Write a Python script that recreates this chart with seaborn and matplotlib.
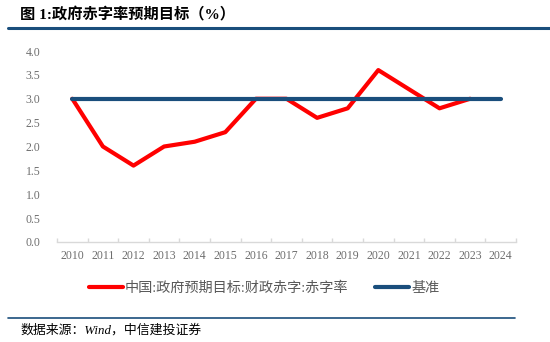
import matplotlib
matplotlib.use("Agg")
import matplotlib.pyplot as plt
import seaborn as sns
import pandas as pd
import numpy as np
from matplotlib.lines import Line2D

years = [2010, 2011, 2012, 2013, 2014, 2015, 2016, 2017, 2018, 2019, 2020, 2021, 2022, 2023, 2024]
deficit_years = [2010, 2011, 2012, 2013, 2014, 2015, 2016, 2017, 2018, 2019, 2020, 2021, 2022, 2023]
deficit = [3.0, 2.0, 1.6, 2.0, 2.1, 2.3, 3.0, 3.0, 2.6, 2.8, 3.6, 3.2, 2.8, 3.0]
baseline = [3.0] * 15
y_ticks = [0.0, 0.5, 1.0, 1.5, 2.0, 2.5, 3.0, 3.5, 4.0]

name_red = "中国:政府预期目标:财政赤字:赤字率"
name_blue = "基准"
RED = "#FF0000"
BLUE = "#1A4E7C"

sns.set_theme(style="white")
plt.rcParams['font.family'] = ['Liberation Serif', 'Noto Sans CJK SC', 'DejaVu Sans']

fig = plt.figure(figsize=(5.5, 3.42), dpi=100)
ax = fig.add_axes([57/550, 100/342, 459/550, 191/342])

df_red = pd.DataFrame({"year": deficit_years, "value": deficit})
df_blue = pd.DataFrame({"year": years, "value": baseline})
sns.lineplot(data=df_red, x="year", y="value", ax=ax, color=RED, lw=3.0, solid_capstyle="round")
sns.lineplot(data=df_blue, x="year", y="value", ax=ax, color=BLUE, lw=3.0, solid_capstyle="round")

ax.set_xlim(years[0] - 0.5, years[-1] + 0.5)
ax.set_ylim(0, 4.0)
ax.set_xticks(years)
ax.set_xticklabels([str(y) for y in years])
ax.set_xticks([y - 0.5 for y in years] + [years[-1] + 0.5], minor=True)
ax.set_yticks(y_ticks)
ax.set_yticklabels([f"{v:.1f}" for v in y_ticks])
ax.set_xlabel("")
ax.set_ylabel("")
for s in ["top", "right", "left"]:
    ax.spines[s].set_visible(False)
ax.spines["bottom"].set_color("#D9D9D9")
ax.spines["bottom"].set_linewidth(1.0)
ax.tick_params(axis="x", which="major", length=0, pad=6, labelsize=8.5, labelcolor="#6E6E6E")
ax.tick_params(axis="x", which="minor", length=3, direction="in", color="#D9D9D9", width=1.0, bottom=True)
ax.tick_params(axis="y", length=0, pad=12, labelsize=8.5, labelcolor="#6E6E6E")
ax.grid(False)

handles = [Line2D([0], [0], color=RED, lw=3.0), Line2D([0], [0], color=BLUE, lw=3.0)]
fig.legend(handles, [name_red, name_blue], loc="center", bbox_to_anchor=(264/550, 1 - 288/342),
           ncol=2, frameon=False, handlelength=2.4, handletextpad=0.15, columnspacing=1.9,
           prop={"size": 10.2}, labelcolor="#595959")

fig.text(20/550, 1 - 15/342, "图 1:政府赤字率预期目标（%）", fontsize=11, fontweight="bold",
         ha="left", va="center", color="#000000")
fig.add_artist(Line2D([8/550, 1.0], [1 - 28/342, 1 - 28/342], color=BLUE, lw=2.2, transform=fig.transFigure))
fig.add_artist(Line2D([8/550, 515/550], [1 - 318/342, 1 - 318/342], color=BLUE, lw=1.2, transform=fig.transFigure))
fig.text(20/550, 1 - 330/342, "数据来源：Wind，中信建投证券", fontsize=9.3, style="italic",
         ha="left", va="center", color="#000000")

fig.savefig("out.png", dpi=100)
